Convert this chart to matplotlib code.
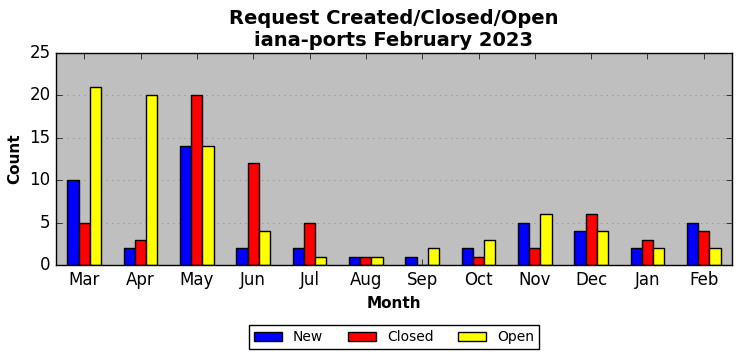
import matplotlib
matplotlib.use("Agg")
import matplotlib.pyplot as plt
import numpy as np

plt.style.use("classic")

months = ["Mar", "Apr", "May", "Jun", "Jul", "Aug", "Sep", "Oct", "Nov", "Dec", "Jan", "Feb"]
new = [10, 2, 14, 2, 2, 1, 1, 2, 5, 4, 2, 5]
closed = [5, 3, 20, 12, 5, 1, 0, 1, 2, 6, 3, 4]
open_ = [21, 20, 14, 4, 1, 1, 2, 3, 6, 4, 2, 2]

fig = plt.figure(figsize=(7.42, 3.61), dpi=100)
fig.patch.set_facecolor("white")
ax = fig.add_axes([56/742, 1-265/361, 676/742, 212/361])
ax.set_facecolor("#bfbfbf")

x = np.arange(len(months))
w = 0.2
ax.bar(x - w, new, w, color="blue", edgecolor="black", label="New", align="center")
ax.bar(x, closed, w, color="red", edgecolor="black", label="Closed", align="center")
ax.bar(x + w, open_, w, color="yellow", edgecolor="black", label="Open", align="center")

ax.set_xlim(-0.5, len(months) - 0.5)
ax.set_ylim(0, 25)
ax.set_xticks(x)
ax.set_xticklabels(months, fontsize=12)
ax.set_yticks([0, 5, 10, 15, 20, 25])
ax.tick_params(axis="y", labelsize=12)
ax.yaxis.grid(True, linestyle=":", color="#888888")
ax.set_axisbelow(True)
ax.set_xlabel("Month", fontsize=11, fontweight="bold")
ax.set_ylabel("Count", fontsize=11, fontweight="bold")
ax.set_title("Request Created/Closed/Open\niana-ports February 2023", fontsize=14, fontweight="bold")
ax.legend(loc="upper center", bbox_to_anchor=(0.5, -0.285), ncol=3, fontsize=10,
          frameon=True, borderpad=0.35, borderaxespad=0.0, columnspacing=1.8)

fig.savefig("out.png", dpi=100, facecolor="white")
